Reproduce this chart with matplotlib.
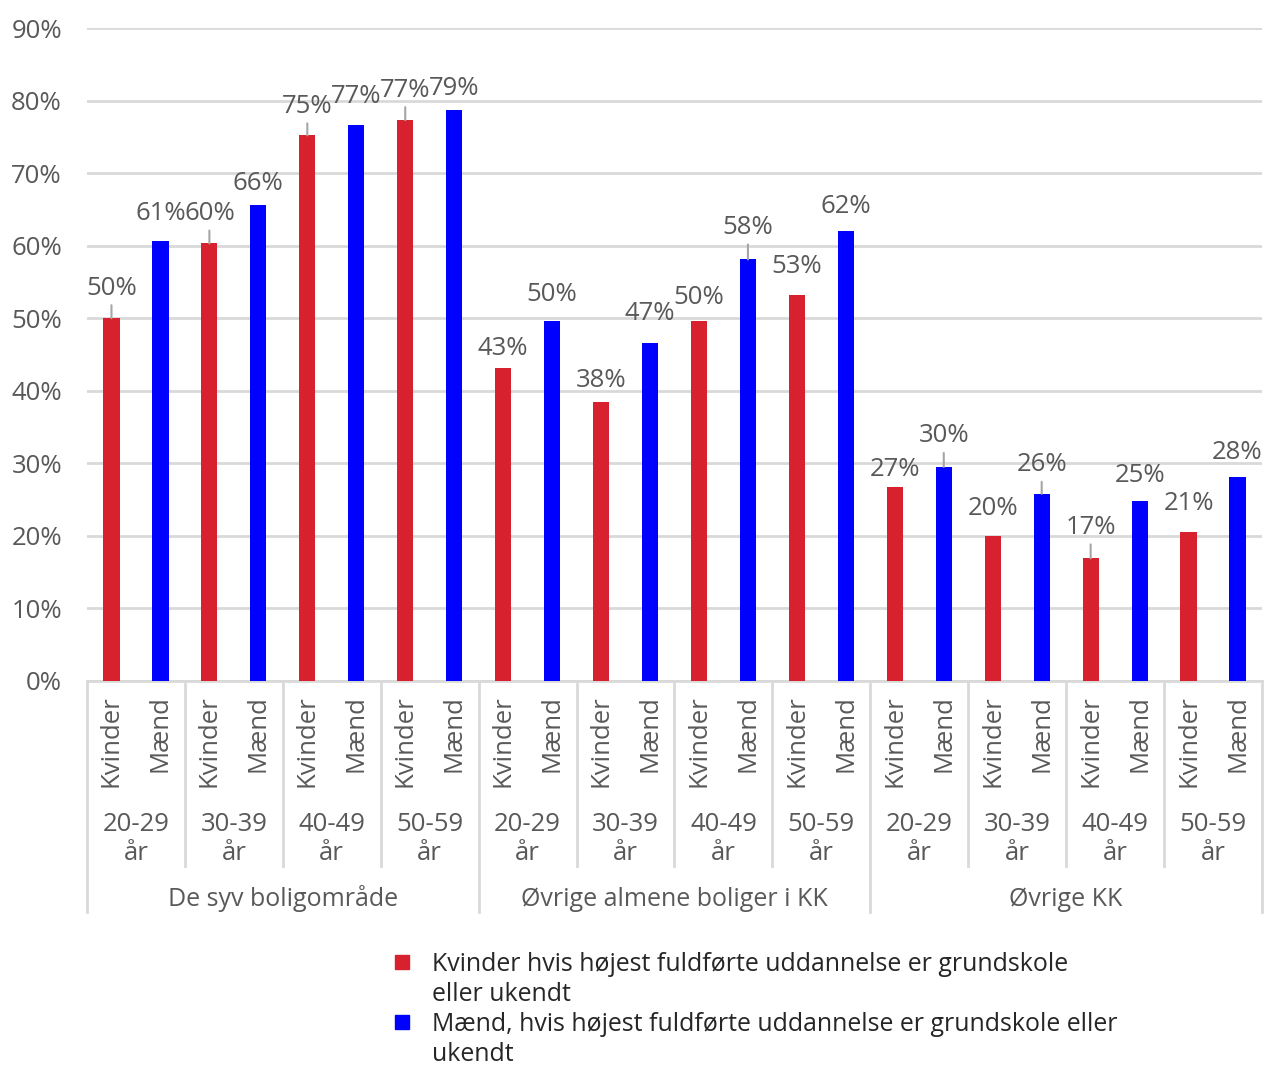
import matplotlib.pyplot as plt
from matplotlib.patches import Rectangle
import numpy as np

# data
groups = ["De syv boligområde", "Øvrige almene boliger i KK", "Øvrige KK"]
ages = ["20-29\når", "30-39\når", "40-49\når", "50-59\når"]
genders = ["Kvinder", "Mænd"]
kvinder = [50.0, 60.3, 75.2, 77.3, 43.1, 38.4, 49.6, 53.2, 26.7, 20.0, 16.9, 20.6]
maend = [60.7, 65.6, 76.6, 78.7, 49.6, 46.6, 58.1, 62.0, 29.5, 25.8, 24.8, 28.1]
legend_labels = ["Kvinder hvis højest fuldførte uddannelse er grundskole\neller ukendt",
                 "Mænd, hvis højest fuldførte uddannelse er grundskole eller\nukendt"]

# layout: data label distance above bar (px), and which labels got a leader line
label_off_px = [30, 27, 30, 22, 29, 29, 30, 21,
                20, 27, 22, 29, 24, 32, 29, 25,
                18, 31, 27, 29, 31, 26, 28, 25]
leaders = [0, 2, 4, 6, 13, 17, 19, 20]

RED = "#d7212f"
BLUE = "#0000ff"
GRID = "#d9d9d9"
TXT = "#595959"
FONT = "Open Sans"
FS = 18.5

plt.rcParams['font.family'] = [FONT, 'DejaVu Sans']

W, H = 1265, 1070
fig = plt.figure(figsize=(W / 100, H / 100), dpi=100)
ax = fig.add_axes([87 / W, (H - 681) / H, (1262 - 87) / W, (681 - 28) / H])

values = []
for k, m in zip(kvinder, maend):
    values += [k, m]
values = np.array(values)
x = np.arange(len(values))
colors = [RED, BLUE] * len(kvinder)

ax.bar(x, values, width=0.33, color=colors, zorder=3)

ax.set_xlim(-0.5, len(values) - 0.5)
ax.set_ylim(0, 90)
ax.set_yticks(np.arange(0, 91, 10))
ax.set_yticklabels([f"{t}%" for t in range(0, 91, 10)], color=TXT, fontsize=FS)
ax.tick_params(axis='y', length=0, pad=18)
ax.tick_params(axis='x', length=0, labelbottom=False)
ax.grid(axis='y', color=GRID, lw=2, zorder=0)
for s in ["top", "right", "left"]:
    ax.spines[s].set_visible(False)
ax.spines["bottom"].set_color(GRID)
ax.spines["bottom"].set_linewidth(2)

px = 0.72  # px -> points
for i, v in enumerate(values):
    off = label_off_px[i]
    ax.annotate(f"{round(v)}%", xy=(i, v), xytext=(0, off * px), textcoords='offset points',
                ha='center', va='center', fontsize=FS, color=TXT, zorder=4)
    if i in leaders:
        ax.annotate("", xy=(i, v), xytext=(0, (off - 17) * px), textcoords='offset points',
                    arrowprops=dict(arrowstyle='-', color="#a6a6a6", lw=1.5,
                                    shrinkA=0, shrinkB=0))

# hierarchical category axis
tr = ax.get_xaxis_transform()
ah = 681 - 28


def ay(p):
    return (681 - p) / ah


for i in x:
    ax.text(i, ay(695), genders[i % 2], rotation=90, ha='center', va='top',
            fontsize=FS, color=TXT, transform=tr)
n_age = len(ages)
for g in range(len(groups)):
    for a in range(n_age):
        c = g * n_age * 2 + a * 2 + 0.5
        ax.text(c, ay(839), ages[a], ha='center', va='center', fontsize=FS,
                color=TXT, transform=tr, linespacing=1.2)
    ax.text(g * n_age * 2 + n_age - 0.5, ay(899), groups[g], ha='center', va='center',
            fontsize=18, color=TXT, transform=tr)

for k in range(len(groups) * n_age + 1):
    xs = -0.5 + 2 * k
    bottom = ay(912) if k % n_age == 0 else ay(866)
    ax.plot([xs, xs], [0, bottom], color=GRID, lw=2, transform=tr, clip_on=False)

# legend
for j, (lab, col) in enumerate(zip(legend_labels, [RED, BLUE])):
    top = 955 + j * 60
    fig.patches.append(Rectangle((395 / W, (H - top - 14) / H), 14 / W, 14 / H,
                                 transform=fig.transFigure, color=col))
    fig.text(432 / W, (H - top + 3) / H, lab, ha='left', va='top', fontsize=17.9,
             color="#262626", linespacing=1.25)

fig.savefig("out.png", dpi=100)
